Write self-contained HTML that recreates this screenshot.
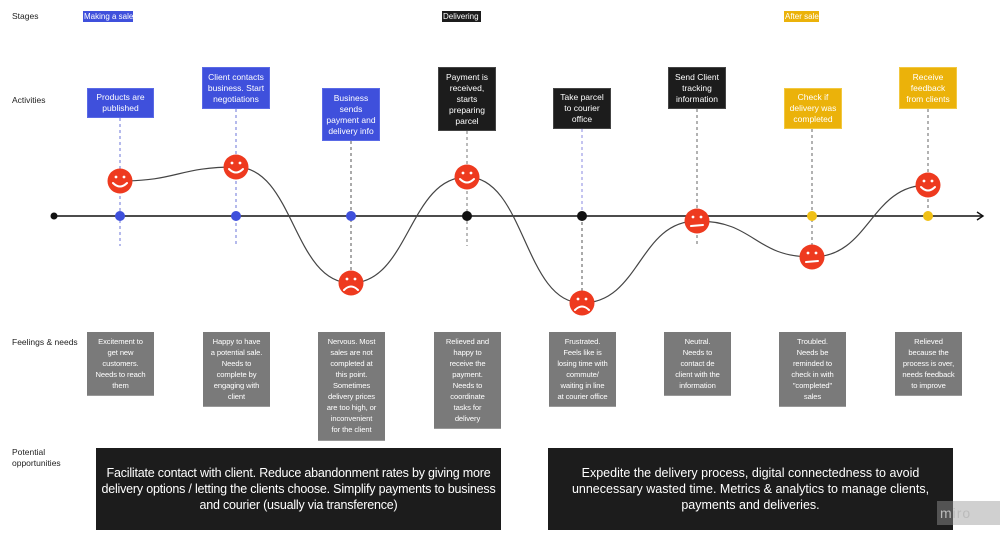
<!DOCTYPE html>
<html><head><meta charset="utf-8"><style>
html,body{margin:0;padding:0;background:#fff;}
body{width:1000px;height:541px;position:relative;overflow:hidden;font-family:"Liberation Sans",sans-serif;}
.lbl{position:absolute;font-size:8.5px;color:#222;left:12px;}
.tag{position:absolute;font-size:8px;line-height:11px;height:11px;padding:0 1px;white-space:nowrap;}
.act{position:absolute;color:#fff;font-size:8.5px;line-height:11px;text-align:center;display:flex;align-items:center;justify-content:center;box-sizing:border-box;padding:2px 1px;white-space:nowrap;}
.blue{background:#3f50dc;border:1px solid #5a6ae6;}
.blk{background:#1c1c1c;border:1px solid #444;}
.yel{background:#ebb20a;border:1px solid #f2c840;}
.feel{position:absolute;top:332px;width:67px;background:#7a7a7a;color:#fff;font-size:7.6px;line-height:11px;text-align:center;box-sizing:border-box;padding:4px 0;border-bottom:1px solid #999;white-space:nowrap;letter-spacing:-0.1px;}
.opp{position:absolute;top:448px;height:82px;background:#1c1c1c;color:#fff;font-size:12.5px;line-height:16px;text-align:center;display:flex;align-items:center;justify-content:center;box-sizing:border-box;white-space:nowrap;}
</style></head><body>
<div class="lbl" style="top:11px">Stages</div>
<div class="lbl" style="top:95px">Activities</div>
<div class="lbl" style="top:337px">Feelings &amp; needs</div>
<div class="lbl" style="top:447px;line-height:11px">Potential<br>opportunities</div>
<div class="tag" style="left:83px;top:11px;width:48px;background:#3f50dc;color:#fff">Making a sale</div>
<div class="tag" style="left:442px;top:11px;width:37px;background:#1c1c1c;color:#fff">Delivering</div>
<div class="tag" style="left:784px;top:11px;width:33px;background:#ebb20a;color:#fff">After sale</div>

<svg style="position:absolute;left:0;top:0" width="1000" height="541">
<g stroke-width="1" stroke-dasharray="3,3" fill="none">
<line x1="120" y1="118" x2="120" y2="246" stroke="#6b74d8"/>
<line x1="236" y1="109" x2="236" y2="246" stroke="#6b74d8"/>
<line x1="351" y1="141" x2="351" y2="283" stroke="#555"/>
<line x1="467" y1="131" x2="467" y2="246" stroke="#777"/>
<line x1="582" y1="129" x2="582" y2="216" stroke="#8a8ae0"/>
<line x1="582" y1="216" x2="582" y2="303" stroke="#555"/>
<line x1="697" y1="109" x2="697" y2="246" stroke="#666"/>
<line x1="812" y1="129" x2="812" y2="257" stroke="#666"/>
<line x1="928" y1="109" x2="928" y2="216" stroke="#666"/>
</g>
<line x1="54" y1="216" x2="983" y2="216" stroke="#111" stroke-width="1.6"/>
<path d="M977 212 L983 216 L977 220" stroke="#111" stroke-width="1.4" fill="none"/>
<circle cx="54" cy="216" r="3.5" fill="#111"/>
<path d="M120 181 C178 181 178 167 236 167 C294 167 293 283 351 283 C409 283 409 177 467 177 C525 177 524 303 582 303 C640 303 639 221 697 221 C755 221 754 257 812 257 C870 257 870 185 928 185" stroke="#444" stroke-width="1.2" fill="none"/>
<g fill="#3f50dc"><circle cx="120" cy="216" r="5"/><circle cx="236" cy="216" r="5"/><circle cx="351" cy="216" r="5"/></g>
<g fill="#111"><circle cx="467" cy="216" r="5"/><circle cx="582" cy="216" r="5"/></g>
<g fill="#f0c015"><circle cx="812" cy="216" r="5"/><circle cx="928" cy="216" r="5"/></g>
<g fill="#ee3a1f">
<circle cx="120" cy="181" r="12.5"/><circle cx="236" cy="167" r="12.5"/><circle cx="351" cy="283" r="12.5"/><circle cx="467" cy="177" r="12.5"/>
<circle cx="582" cy="303" r="12.5"/><circle cx="697" cy="221" r="12.5"/><circle cx="812" cy="257" r="12.5"/><circle cx="928" cy="185" r="12.5"/>
</g>
<g fill="#fff">
<circle cx="116" cy="177" r="1.4"/><circle cx="124" cy="177" r="1.4"/>
<circle cx="232" cy="163" r="1.4"/><circle cx="240" cy="163" r="1.4"/>
<circle cx="347" cy="279" r="1.4"/><circle cx="355" cy="279" r="1.4"/>
<circle cx="463" cy="173" r="1.4"/><circle cx="471" cy="173" r="1.4"/>
<circle cx="578" cy="299" r="1.4"/><circle cx="586" cy="299" r="1.4"/>
<circle cx="693" cy="217" r="1.4"/><circle cx="701" cy="217" r="1.4"/>
<circle cx="808" cy="253" r="1.4"/><circle cx="816" cy="253" r="1.4"/>
<circle cx="924" cy="181" r="1.4"/><circle cx="932" cy="181" r="1.4"/>
</g>
<g stroke="#fff" stroke-width="2" fill="none" stroke-linecap="round">
<path d="M113 183 Q120 190 127 183"/>
<path d="M229 169 Q236 176 243 169"/>
<path d="M344 290 Q351 283 358 290"/>
<path d="M460 179 Q467 186 474 179"/>
<path d="M575 310 Q582 303 589 310"/>
<path d="M691 226 L703 225"/>
<path d="M806 262 L818 261"/>
<path d="M921 187 Q928 194 935 187"/>
</g>
</svg>

<div class="act blue" style="left:87px;top:88px;width:67px;height:30px">Products are<br>published</div>
<div class="act blue" style="left:202px;top:67px;width:68px;height:42px">Client contacts<br>business. Start<br>negotiations</div>
<div class="act blue" style="left:322px;top:88px;width:58px;height:53px">Business<br>sends<br>payment and<br>delivery info</div>
<div class="act blk" style="left:438px;top:67px;width:58px;height:64px">Payment is<br>received,<br>starts<br>preparing<br>parcel</div>
<div class="act blk" style="left:553px;top:88px;width:58px;height:41px">Take parcel<br>to courier<br>office</div>
<div class="act blk" style="left:668px;top:67px;width:58px;height:42px">Send Client<br>tracking<br>information</div>
<div class="act yel" style="left:784px;top:88px;width:58px;height:41px">Check if<br>delivery was<br>completed</div>
<div class="act yel" style="left:899px;top:67px;width:58px;height:42px">Receive<br>feedback<br>from clients</div>

<div class="feel" style="left:87px;height:64px">Excitement to<br>get new<br>customers.<br>Needs to reach<br>them</div>
<div class="feel" style="left:203px;height:75px">Happy to have<br>a potential sale.<br>Needs to<br>complete by<br>engaging with<br>client</div>
<div class="feel" style="left:318px;height:109px">Nervous. Most<br>sales are not<br>completed at<br>this point.<br>Sometimes<br>delivery prices<br>are too high, or<br>inconvenient<br>for the client</div>
<div class="feel" style="left:434px;height:97px">Relieved and<br>happy to<br>receive the<br>payment.<br>Needs to<br>coordinate<br>tasks for<br>delivery</div>
<div class="feel" style="left:549px;height:75px">Frustrated.<br>Feels like is<br>losing time with<br>commute/<br>waiting in line<br>at courier office</div>
<div class="feel" style="left:664px;height:64px">Neutral.<br>Needs to<br>contact de<br>client with the<br>information</div>
<div class="feel" style="left:779px;height:75px">Troubled.<br>Needs be<br>reminded to<br>check in with<br>"completed"<br>sales</div>
<div class="feel" style="left:895px;height:64px">Relieved<br>because the<br>process is over,<br>needs feedback<br>to improve</div>

<div class="opp" style="left:96px;width:405px;letter-spacing:-0.2px">Facilitate contact with client. Reduce abandonment rates by giving more<br>delivery options / letting the clients choose. Simplify payments to business<br>and courier (usually via transference)</div>
<div class="opp" style="left:548px;width:405px">Expedite the delivery process, digital connectedness to avoid<br>unnecessary wasted time. Metrics &amp; analytics to manage clients,<br>payments and deliveries.</div>
<div style="position:absolute;left:937px;top:501px;width:63px;height:24px;background:rgba(150,150,150,0.45);color:#bbb;font-size:14px;line-height:24px;padding-left:3px;box-sizing:border-box;letter-spacing:1px">miro</div>
</body></html>
